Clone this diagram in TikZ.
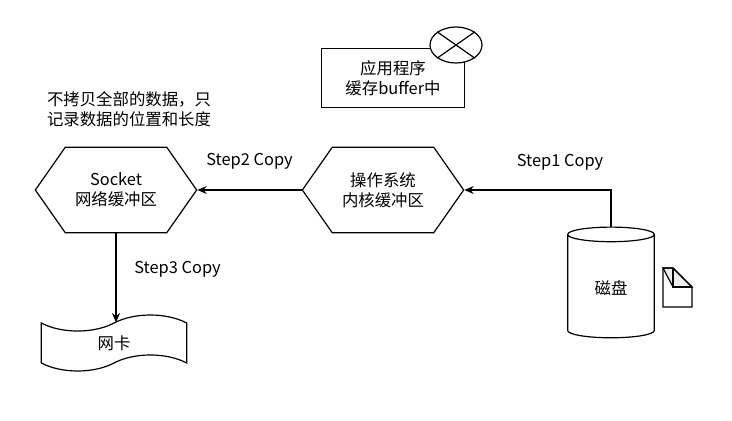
\documentclass[tikz,border=0pt]{standalone}
\usepackage{fontspec}
\setmainfont{Noto Sans CJK SC}
\usetikzlibrary{shapes.geometric,shapes.symbols,arrows.meta}
\begin{document}
\begin{tikzpicture}[x=0.75pt,y=-0.75pt,
	font=\fontsize{12.3}{15}\selectfont, line width=0.9pt, >={Stealth[length=7pt,width=6pt]}]
	% shape styles
	\tikzset{
		hexa/.style={draw, shape=signal, signal to=west and east, signal pointer angle=110,
			minimum width=121pt, minimum height=64pt, inner sep=0pt, align=center},
		lbl/.style={draw=none, fill=none}
	}
	\useasboundingbox (0,0) rectangle (732,421);
	% application box
	\node[draw, minimum width=107pt, minimum height=44pt, align=center] (app) at (393,78) {应用程序\\缓存buffer中};
	\node[draw, fill=white, ellipse, minimum width=39pt, minimum height=27pt, inner sep=0pt] (cross) at (456,45) {};
	\draw (cross.north west) -- (cross.south east);
	\draw (cross.north east) -- (cross.south west);
	\node[lbl, align=left, anchor=west] (note) at (42,109) {不拷贝全部的数据，只\\记录数据的位置和长度};
	% buffers
	\node[hexa] (sock) at (116,190) {Socket\\网络缓冲区};
	\node[hexa] (kern) at (383,190) {操作系统\\内核缓冲区};
	\node[draw, cylinder, shape border rotate=90, aspect=0.35, minimum width=65pt, minimum height=83pt] (disk) at (611,288) {磁盘};
	\node[draw, tape, tape bend top=in and out, tape bend bottom=in and out, tape bend height=12pt, minimum width=109pt, minimum height=40pt] (nic) at (114,343) {网卡};
	% file icon
	\draw[fill=gray!15] (663,268) -- (673,268) -- (692,287) -- (673,287) -- cycle;
	\draw (663,268) -- (673,268) -- (692,287) -- (692,307) -- (663,307) -- cycle;
	\draw (673,268) -- (673,287) -- (692,287);
	% copies
	\draw[->] (disk.north) |- (kern.east);
	\node[lbl] (s1) at (560,162) {Step1 Copy};
	\draw[->] (kern.west) -- (sock.east) node[lbl, midway, above=12pt] (s2) {Step2 Copy};
	\draw[->] (sock.south) -- (nic.north -| sock.south) node[lbl, pos=0.4, right=10pt] (s3) {Step3 Copy};
\end{tikzpicture}
\end{document}
